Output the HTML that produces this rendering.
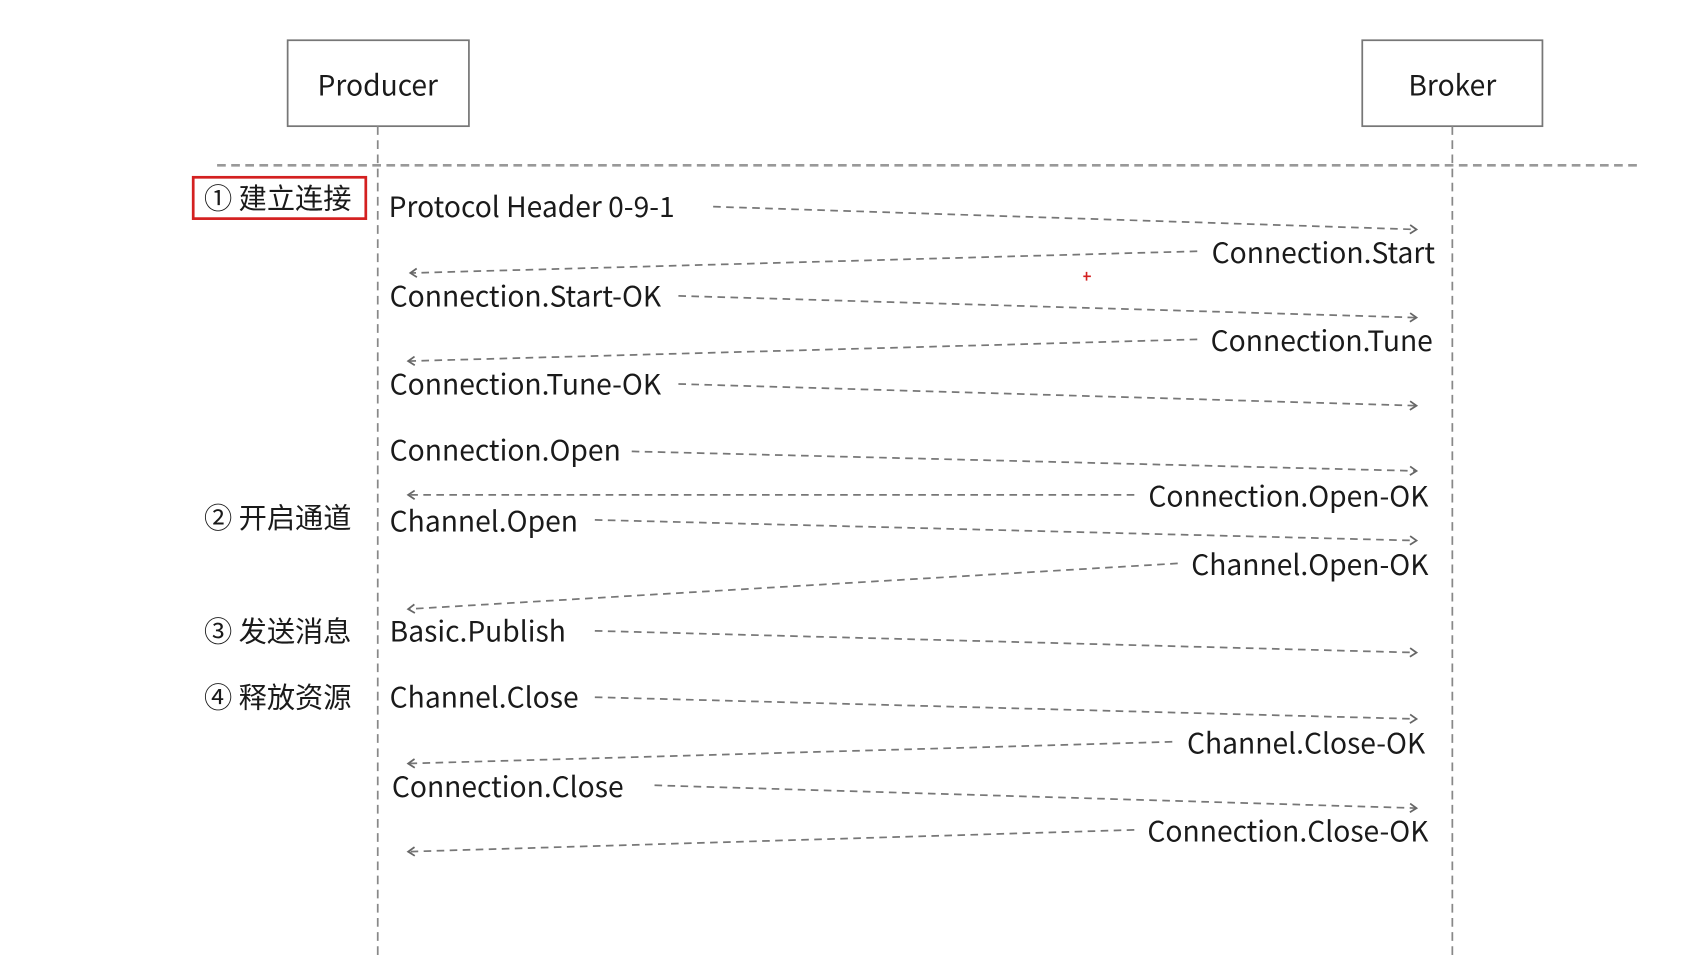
<!DOCTYPE html>
<html><head><meta charset="utf-8"><style>
html,body{margin:0;padding:0;background:#fff;}
svg{display:block}
text{font-family:"Noto Sans CJK SC","Liberation Sans",sans-serif;font-size:26px;fill:#1a1a1a;dominant-baseline:central}
</style></head><body>
<svg width="1702" height="980" viewBox="0 0 1568 901" preserveAspectRatio="none">
<defs>
<marker id="a" markerWidth="12" markerHeight="12" refX="9" refY="5" orient="auto" markerUnits="userSpaceOnUse">
<path d="M3,1 L9,5 L3,9" fill="none" stroke="#666" stroke-width="1.6"/>
</marker>
</defs>
<g fill="none" stroke="#777" stroke-width="1.6">
<rect x="265" y="37" width="167" height="79"/>
<rect x="1255" y="37" width="166" height="79"/>
</g>
<g stroke="#888" stroke-width="1.6" stroke-dasharray="8,5">
<line x1="348" y1="116" x2="348" y2="880"/>
<line x1="1338" y1="116" x2="1338" y2="880"/>
</g>
<line x1="200" y1="152" x2="1510" y2="152" stroke="#999" stroke-width="2.5" stroke-dasharray="8,5"/>
<rect x="178" y="163" width="159" height="38" fill="none" stroke="#d42020" stroke-width="2.5"/>
<text x="348" y="77" text-anchor="middle">Producer</text>
<text x="1338" y="77" text-anchor="middle">Broker</text>
<text x="188" y="181">① 建立连接</text>
<text x="188" y="475">② 开启通道</text>
<text x="188" y="579">③ 发送消息</text>
<text x="188" y="640">④ 释放资源</text>
<g stroke="#777" stroke-width="1.6" stroke-dasharray="7,5" marker-end="url(#a)">
<line x1="657" y1="190" x2="1305" y2="211"/>
<line x1="1103" y1="231" x2="378" y2="251"/>
<line x1="625" y1="272" x2="1305" y2="292"/>
<line x1="1103" y1="312" x2="376" y2="332"/>
<line x1="625" y1="353" x2="1305" y2="373"/>
<line x1="582" y1="415" x2="1305" y2="433"/>
<line x1="1045" y1="455" x2="376" y2="455"/>
<line x1="548" y1="478" x2="1305" y2="497"/>
<line x1="1085" y1="518" x2="376" y2="560"/>
<line x1="548" y1="580" x2="1305" y2="600"/>
<line x1="548" y1="641" x2="1305" y2="661"/>
<line x1="1080" y1="682" x2="376" y2="702"/>
<line x1="603" y1="722" x2="1305" y2="743"/>
<line x1="1045" y1="763" x2="376" y2="783"/>
</g>
<text x="358" y="189">Protocol Header 0-9-1</text>
<text x="1322" y="231" text-anchor="end">Connection.Start</text>
<text x="359" y="271">Connection.Start-OK</text>
<text x="1320" y="312" text-anchor="end">Connection.Tune</text>
<text x="359" y="352">Connection.Tune-OK</text>
<text x="359" y="413">Connection.Open</text>
<text x="1316" y="455" text-anchor="end">Connection.Open-OK</text>
<text x="359" y="478">Channel.Open</text>
<text x="1316" y="518" text-anchor="end">Channel.Open-OK</text>
<text x="359" y="579">Basic.Publish</text>
<text x="359" y="640">Channel.Close</text>
<text x="1313" y="682" text-anchor="end">Channel.Close-OK</text>
<text x="361" y="722">Connection.Close</text>
<text x="1316" y="763" text-anchor="end">Connection.Close-OK</text>
<path d="M998,254 H1005 M1001,250 V258" stroke="#d42020" stroke-width="1.5"/>
</svg>
</body></html>
